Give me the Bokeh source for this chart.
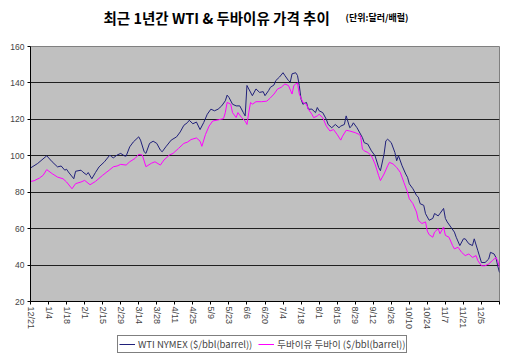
from bokeh.plotting import figure
from bokeh.models import FixedTicker, Legend, LegendItem, Range1d, Label
from bokeh.layouts import column
from bokeh.embed import file_html
from bokeh.resources import INLINE

TITLE_MAIN = "최근 1년간 WTI & 두바이유 가격 추이"
TITLE_UNIT = "(단위:달러/배럴)"
TICK_LABELS = ["12/21", "1/4", "1/18", "2/1", "2/15", "2/29", "3/14", "3/28", "4/11",
               "4/25", "5/9", "5/23", "6/6", "6/20", "7/4", "7/18", "8/1", "8/15",
               "8/29", "9/12", "9/26", "10/10", "10/24", "11/7", "11/21", "12/5"]
Y_TICKS = [20, 40, 60, 80, 100, 120, 140, 160]

WTI_NAME = "WTI NYMEX ($/bbl(barrel))"
DUBAI_NAME = "두바이유 두바이 ($/bbl(barrel))"

# trading-day index (10 trading days per label) and price
WTI_X = [0, 4, 9, 12, 15, 17, 19, 20, 21, 24, 25, 28, 29, 31, 32, 34, 36, 38, 41, 44, 45,
         46, 48, 50, 52, 53, 55, 57, 60, 61, 63, 64, 66, 68, 70, 72, 73, 75, 78, 81, 83, 85, 87, 88,
         90, 92, 94, 96, 98, 100, 102, 104, 106, 108, 109, 110, 112, 114, 116, 118, 119, 120, 121,
         123, 125, 127, 129, 130, 132, 133,
         135, 136, 138, 140, 141, 143, 144, 145, 147, 148, 149, 150, 151, 153, 154, 156, 158, 159,
         160, 162, 164, 165, 167, 169, 171, 172, 174, 175, 177, 178,
         179, 181, 184, 185, 187, 189, 191, 193, 194, 196, 197, 198, 200, 202, 203, 204, 206, 208,
         209, 210, 212, 214, 215, 216, 218, 219,
         220, 221, 223, 224, 226, 227, 229, 230, 231, 233, 235, 236, 238, 240, 241, 243, 245, 246,
         248, 250, 252, 254, 255, 257, 258, 259, 260]
WTI_Y = [93.3, 95.8, 100.0, 96.7, 93.9, 94.4, 92.1, 92.6, 91.1, 87.4, 91.5, 92.1, 91.1, 89.6, 90.8,
         87.4, 90.8, 93.9, 96.7, 100.4, 99.4,
         98.9, 100.4, 101.3, 100.0, 99.8, 104.9, 107.6, 110.4, 108.6, 102.2, 101.3, 106.8, 108.0,
         106.8, 103.1, 102.2, 104.9, 108.6, 110.4, 113.1, 116.7, 118.2, 119.5,
         117.6, 118.5, 114.4, 118.2, 122.8, 125.6, 124.7, 125.6, 127.4, 130.2, 133.3, 132.1, 128.3,
         127.4, 127.4, 123.7, 121.9, 138.6, 136.7, 133.0, 136.7, 134.8, 135.2, 133.0, 135.8, 137.6,
         138.9, 141.3, 143.2, 145.6, 144.1, 141.3, 140.4, 145.0, 145.6, 144.1, 138.6, 131.1, 128.3,
         129.3, 125.6, 125.6, 123.7, 126.5, 124.7, 123.7, 120.0, 117.2, 115.4, 117.2, 115.4, 116.3,
         117.2, 121.9, 115.4, 116.3,
         118.1, 115.4, 110.0, 107.2, 106.4, 102.7, 100.0, 93.6, 91.8, 100.9, 108.2, 109.1, 107.2,
         101.8, 97.3, 100.0, 94.5, 90.0, 88.2, 84.6, 81.9, 78.2, 77.3, 73.7, 72.8, 68.2,
         66.4, 64.6, 65.6, 68.3, 67.0, 68.3, 71.1, 65.6, 63.7, 60.9, 58.1, 55.3, 50.7, 54.4, 54.4,
         51.7, 50.7, 54.4, 47.9, 41.4, 41.4, 43.3, 47.0, 46.1, 44.2, 39.6, 35.9]

DUBAI_X = [0, 2, 5, 7, 9, 12, 15, 18, 20, 23, 25, 28, 30, 33, 36, 40, 44,
           46, 48, 50, 53, 55, 58, 60, 62, 64, 67, 69, 72, 74, 77, 79, 82, 85,
           87, 89, 92, 94, 95, 97, 99, 101, 104, 107, 108, 109, 111, 112, 114, 115, 117, 119, 120,
           121, 122, 123, 125, 128, 131,
           133, 135, 137, 139, 141, 143, 145, 146, 147, 148, 149, 151, 153, 154, 156, 157, 159, 160,
           162, 164, 166, 168, 170, 172, 173, 175, 177,
           180, 182, 183, 184, 185, 187, 189, 191, 193, 194, 196, 198, 199, 201, 203, 205, 207, 209,
           210, 212, 214, 215, 217, 219,
           220, 221, 223, 224, 226, 227, 229, 230, 232, 234, 235, 237, 239, 241, 243, 245, 247, 248,
           250, 252, 254, 256, 258, 259, 260]
DUBAI_Y = [85.9, 86.3, 87.8, 89.3, 92.4, 90.2, 88.3, 87.4, 85.6, 81.9, 84.7, 85.6, 86.5, 84.1,
           85.9, 89.3, 92.4,
           94.0, 94.4, 95.3, 94.9, 96.7, 98.6, 100.8, 100.4, 94.0, 95.9, 96.7, 94.9, 97.7, 100.4,
           101.3, 104.0, 106.8,
           107.5, 108.9, 109.8, 108.0, 105.2, 111.7, 116.3, 119.1, 119.7, 120.4, 123.7, 129.3, 128.3,
           123.7, 121.0, 123.7, 121.0, 119.1, 117.2, 123.7, 129.3, 128.3, 129.7, 129.7, 130.0,
           131.8, 133.9, 136.7, 137.6, 139.4, 138.6, 133.9, 138.6, 139.4, 140.0, 133.9, 129.3, 128.3,
           125.6, 122.8, 120.9, 121.9, 122.8, 120.9, 116.3, 113.6, 114.4, 111.7, 108.6, 110.8, 114.0,
           113.6,
           112.7, 111.8, 110.9, 103.7, 102.7, 101.8, 100.0, 95.5, 89.1, 86.4, 90.0, 94.5, 96.4, 95.5,
           93.6, 90.9, 85.4, 80.0, 76.4, 73.7, 69.1, 64.6, 62.8, 63.7,
           58.6, 56.7, 55.3, 58.1, 60.0, 57.2, 60.9, 56.3, 55.3, 50.7, 48.9, 49.8, 47.0, 45.2, 46.1,
           44.2, 45.2, 42.4, 39.6, 39.6, 40.6, 42.4, 44.2, 42.4, 38.7]

TICK_POS = [10 * k for k in range(len(TICK_LABELS) + 1)]
WTI_COLOR = "#20207A"
DUBAI_COLOR = "#FF00FF"
FONT_KR = "Noto Sans CJK KR"

# ---- title strip (its frame is aligned with the chart frame: page x 30..499) ----
pt = figure(width=512, height=30, output_backend="svg", toolbar_location=None,
            x_range=Range1d(30, 499), y_range=Range1d(0, 30),
            x_axis_type=None, y_axis_type=None, min_border=0)
pt.outline_line_color = None
pt.grid.visible = False
pt.background_fill_color = "white"
pt.add_layout(Label(x=103, y=13, text=TITLE_MAIN, text_align="left", text_baseline="middle",
                    text_font=FONT_KR, text_font_size="14.5px", text_font_style="bold",
                    text_color="black"))
pt.add_layout(Label(x=345, y=13, text=TITLE_UNIT, text_align="left", text_baseline="middle",
                    text_font=FONT_KR, text_font_size="9px", text_font_style="bold",
                    text_color="black"))

# ---- main chart ----
p = figure(frame_width=469, frame_height=255, output_backend="svg", toolbar_location=None,
           title=None, x_range=Range1d(0, TICK_POS[-1]), y_range=Range1d(Y_TICKS[0], Y_TICKS[-1]),
           min_border_left=30, min_border_right=13, min_border_top=16, min_border_bottom=34)
p.background_fill_color = "#C0C0C0"
p.border_fill_color = "white"
p.outline_line_color = "#808080"

p.line(WTI_X, WTI_Y, line_color=WTI_COLOR, line_width=1)
p.line(DUBAI_X, DUBAI_Y, line_color=DUBAI_COLOR, line_width=1)

p.xgrid.visible = False
p.ygrid.ticker = FixedTicker(ticks=Y_TICKS)
p.ygrid.grid_line_color = "#202020"
p.ygrid.grid_line_width = 1

p.yaxis.ticker = FixedTicker(ticks=Y_TICKS)
p.yaxis.major_label_text_font = "Liberation Sans"
p.yaxis.major_label_text_font_size = "8.5px"
p.yaxis.major_tick_out = 3
p.yaxis.major_tick_in = 0
p.yaxis.minor_tick_out = 0
p.yaxis.minor_tick_in = 0
p.yaxis.major_label_standoff = 3
p.yaxis.axis_line_color = "black"

p.xaxis.ticker = FixedTicker(ticks=TICK_POS)
overrides = {TICK_POS[k]: TICK_LABELS[k] for k in range(len(TICK_LABELS))}
overrides[TICK_POS[-1]] = ""
p.xaxis.major_label_overrides = overrides
p.xaxis.major_label_orientation = "vertical"
p.xaxis.major_label_text_font = "Liberation Sans"
p.xaxis.major_label_text_font_size = "9px"
p.xaxis.major_tick_out = 3
p.xaxis.major_tick_in = 0
p.xaxis.minor_tick_out = 0
p.xaxis.minor_tick_in = 0
p.xaxis.major_label_standoff = 2
p.xaxis.axis_line_color = "black"

# ---- legend strip (proxy lines lie outside the visible range) ----
pl = figure(width=512, height=21, output_backend="svg", toolbar_location=None,
            x_range=Range1d(0, 512), y_range=Range1d(0, 21),
            x_axis_type=None, y_axis_type=None, min_border=0)
pl.outline_line_color = None
pl.grid.visible = False
pl.background_fill_color = "white"
pl.border_fill_color = "white"
l1 = pl.line([-20, -10], [-20, -20], line_color=WTI_COLOR, line_width=1)
l2 = pl.line([-20, -10], [-30, -30], line_color=DUBAI_COLOR, line_width=1)
legend = Legend(items=[LegendItem(label=WTI_NAME, renderers=[l1]),
                       LegendItem(label=DUBAI_NAME, renderers=[l2])],
                orientation="horizontal", location=(87, 3),
                label_text_font=FONT_KR, label_text_font_size="9.5px",
                border_line_color="black", border_line_width=1,
                background_fill_color="white", padding=1, spacing=6, margin=0,
                label_standoff=3, glyph_width=16, glyph_height=8, label_height=9)
pl.add_layout(legend)

layout = column(pt, p, pl, spacing=0)
open("out.html", "w").write(file_html(layout, INLINE))
